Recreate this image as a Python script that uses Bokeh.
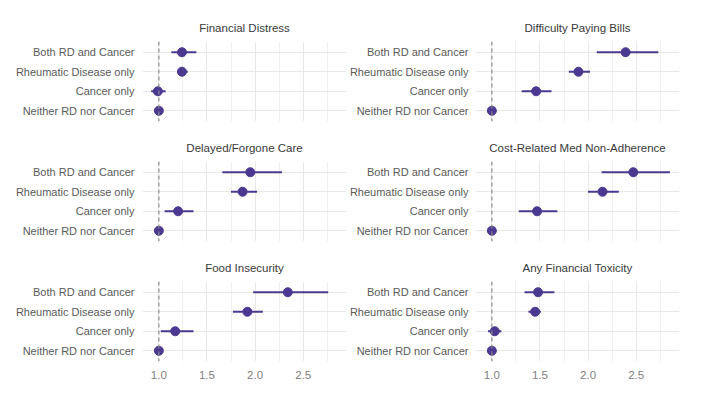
from bokeh.plotting import figure
from bokeh.layouts import gridplot
from bokeh.models import Range1d, FactorRange, FixedTicker, Span, ColumnDataSource, PrintfTickFormatter
from bokeh.embed import file_html
from bokeh.resources import INLINE

groups = ["Neither RD nor Cancer", "Cancer only", "Rheumatic Disease only", "Both RD and Cancer"]
outcomes = ["Financial Distress", "Difficulty Paying Bills", "Delayed/Forgone Care",
            "Cost-Related Med Non-Adherence", "Food Insecurity", "Any Financial Toxicity"]

# order matches groups: Neither, Cancer only, RD only, Both
financial_distress_or = [1.00, 0.99, 1.24, 1.24]
financial_distress_lo = [1.00, 0.92, 1.19, 1.13]
financial_distress_hi = [1.00, 1.07, 1.30, 1.39]

paying_bills_or = [1.00, 1.46, 1.90, 2.39]
paying_bills_lo = [1.00, 1.31, 1.80, 2.09]
paying_bills_hi = [1.00, 1.62, 2.02, 2.73]

delayed_care_or = [1.00, 1.20, 1.87, 1.95]
delayed_care_lo = [1.00, 1.06, 1.75, 1.66]
delayed_care_hi = [1.00, 1.36, 2.02, 2.28]

med_nonadherence_or = [1.00, 1.47, 2.15, 2.47]
med_nonadherence_lo = [1.00, 1.28, 2.00, 2.14]
med_nonadherence_hi = [1.00, 1.68, 2.32, 2.85]

food_insecurity_or = [1.00, 1.17, 1.92, 2.34]
food_insecurity_lo = [1.00, 1.02, 1.77, 1.98]
food_insecurity_hi = [1.00, 1.36, 2.08, 2.76]

any_toxicity_or = [1.00, 1.03, 1.45, 1.48]
any_toxicity_lo = [1.00, 0.96, 1.38, 1.34]
any_toxicity_hi = [1.00, 1.10, 1.51, 1.65]

x_ticks = [1.0, 1.5, 2.0, 2.5]
x_minor = [1.25, 1.75, 2.25, 2.75]

series = [
    (financial_distress_or, financial_distress_lo, financial_distress_hi),
    (paying_bills_or, paying_bills_lo, paying_bills_hi),
    (delayed_care_or, delayed_care_lo, delayed_care_hi),
    (med_nonadherence_or, med_nonadherence_lo, med_nonadherence_hi),
    (food_insecurity_or, food_insecurity_lo, food_insecurity_hi),
    (any_toxicity_or, any_toxicity_lo, any_toxicity_hi),
]

PURPLE = "#4b3890"
FONT = "Liberation Sans"
FRAME_W = 204
FRAME_H = 80

figs = []
for i, (name, (orv, lo, hi)) in enumerate(zip(outcomes, series)):
    row, col = divmod(i, 2)
    left = 142 if col == 0 else 129
    right = 0 if col == 0 else 25
    top = 41 if row == 0 else 30
    bottom = 34 if row == 2 else 10
    p = figure(width=left + FRAME_W + right, height=top + FRAME_H + bottom,
               x_range=Range1d(0.83, 2.95),
               y_range=FactorRange(factors=groups, range_padding=0.025),
               output_backend="svg", toolbar_location=None,
               min_border_left=left, min_border_right=right,
               min_border_top=top, min_border_bottom=bottom)
    p.title.text = name
    p.title.align = "center"
    p.title.text_font = FONT
    p.title.text_font_size = "11.5px"
    p.title.text_font_style = "normal"
    p.title.text_color = "#3a3a3a"
    p.title.standoff = 15 if row == 0 else 16
    p.outline_line_color = None
    p.background_fill_color = "white"
    p.border_fill_color = "white"

    p.xaxis.ticker = FixedTicker(ticks=x_ticks, minor_ticks=x_minor)
    p.xaxis.formatter = PrintfTickFormatter(format="%.1f")
    p.xaxis.axis_line_color = None
    p.xaxis.major_tick_line_color = None
    p.xaxis.minor_tick_line_color = None
    p.xaxis.major_tick_out = 0
    p.xaxis.major_tick_in = 0
    p.xaxis.minor_tick_out = 0
    p.xaxis.major_label_text_font = FONT
    p.xaxis.major_label_text_font_size = "11.5px"
    p.xaxis.major_label_text_color = "#808080"
    p.xaxis.major_label_standoff = 9
    if row != 2:
        p.xaxis.visible = False

    p.yaxis.axis_line_color = None
    p.yaxis.major_tick_line_color = None
    p.yaxis.minor_tick_line_color = None
    p.yaxis.major_tick_out = 0
    p.yaxis.major_tick_in = 0
    p.yaxis.minor_tick_out = 0
    p.yaxis.major_label_text_font = FONT
    p.yaxis.major_label_text_font_size = "11px"
    p.yaxis.major_label_text_color = "#5a5a5a"
    p.yaxis.major_label_standoff = 8 if col == 0 else 7

    p.xgrid.ticker = FixedTicker(ticks=x_ticks, minor_ticks=x_minor)
    p.xgrid.grid_line_color = "#e8e8e8"
    p.xgrid.grid_line_width = 1
    p.xgrid.minor_grid_line_color = "#f0f0f0"
    p.xgrid.minor_grid_line_width = 1
    p.ygrid.grid_line_color = "#e8e8e8"
    p.ygrid.grid_line_width = 1

    p.add_layout(Span(location=1.0, dimension="height", line_color="#8c8c8c",
                      line_dash="4 3", line_width=1.2))

    src = ColumnDataSource(dict(g=groups, est=orv, lo=lo, hi=hi))
    p.segment(x0="lo", x1="hi", y0="g", y1="g", source=src,
              line_color=PURPLE, line_width=2)
    p.scatter(x="est", y="g", source=src, size=9, fill_color=PURPLE,
              line_color=PURPLE)
    figs.append(p)

grid = gridplot([[figs[0], figs[1]], [figs[2], figs[3]], [figs[4], figs[5]]],
                toolbar_location=None)

open("out.html", "w").write(file_html(grid, INLINE))
